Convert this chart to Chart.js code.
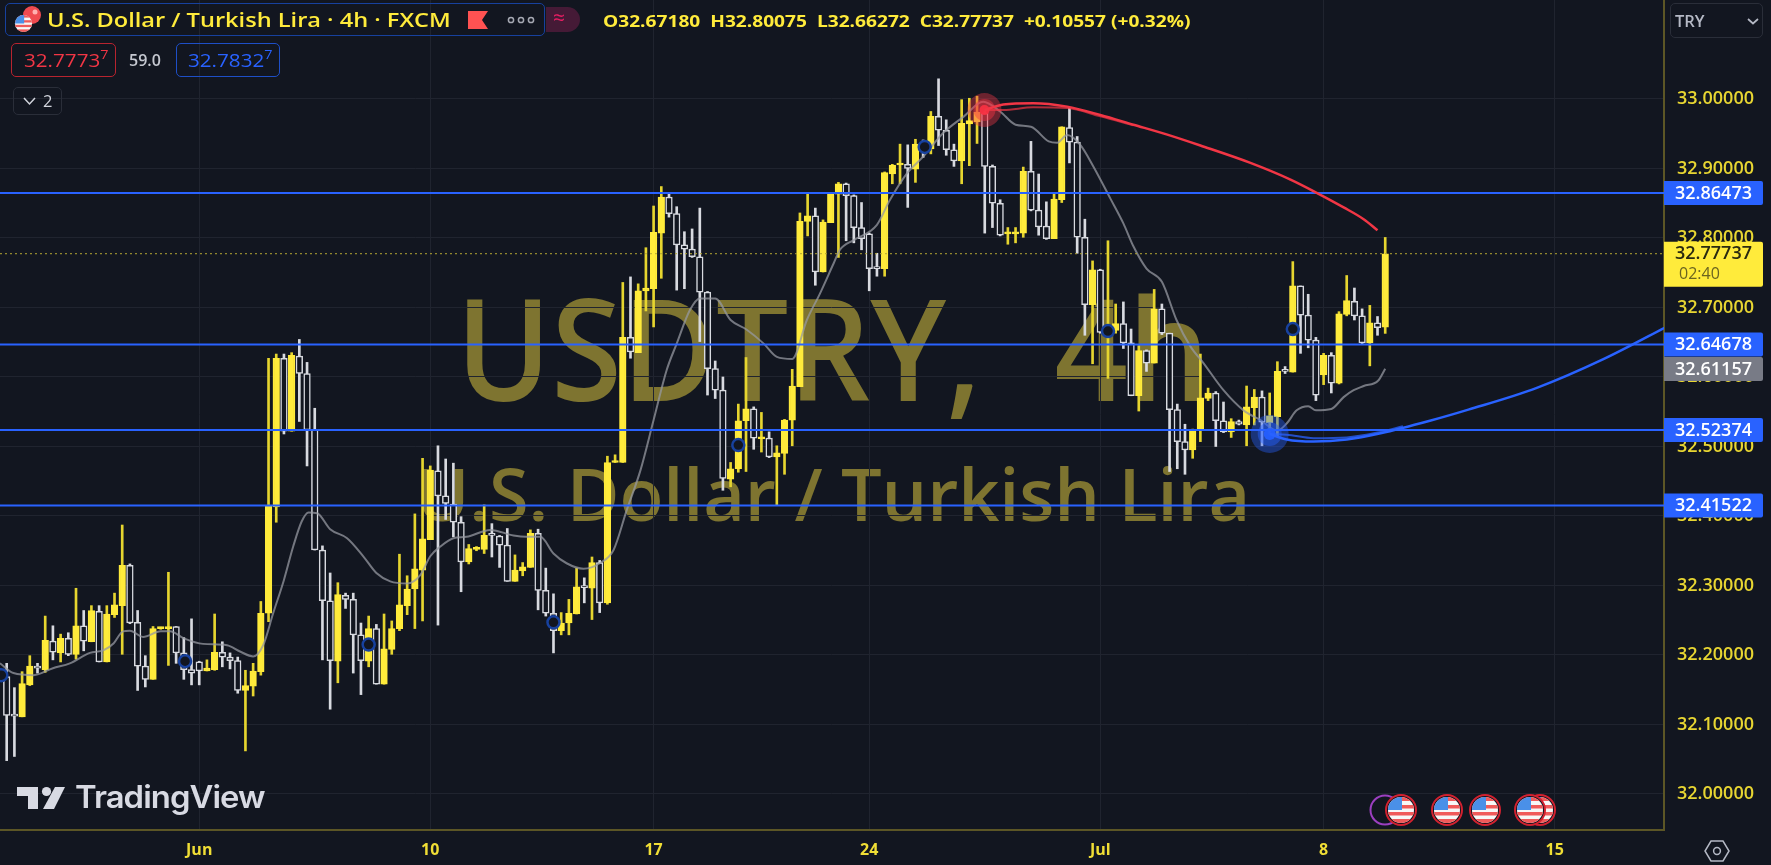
<!DOCTYPE html>
<html>
<head>
<meta charset="utf-8">
<title>USDTRY 4h</title>
<script src="https://cdn.jsdelivr.net/npm/chart.js@4"></script>
<style>
html, body { margin: 0; padding: 0; background: #121620; overflow: hidden; }
#wrap { position: relative; width: 1771px; height: 865px; font-family: "Open Sans", sans-serif; }
#grafico { position: absolute; left: 0; top: 0; z-index: 2; }
.abs { position: absolute; white-space: nowrap; z-index: 3; transform-origin: left center; }
.marca { position: absolute; white-space: nowrap; color: #7e7430; z-index: 1; font-family: "Open Sans", sans-serif; line-height: 1; transform-origin: left center; }
.caja { position: absolute; box-sizing: border-box; border-radius: 5px; z-index: 3; }
sup { font-size: 70%; vertical-align: top; position: relative; top: -2px; }
</style>
</head>
<body>
<div id="wrap">
  <div class="marca" style="left:456px;top:276px;font-size:141px;font-weight:600;transform:scaleX(0.91);word-spacing:44px;">USDTRY, 4h</div>
  <div class="marca" style="left:416px;top:457px;font-size:72px;font-weight:600;letter-spacing:-0.1px;">U.S. Dollar / Turkish Lira</div>
  <canvas id="grafico" width="1771" height="865"></canvas>

  <div class="caja" style="left:5px;top:3px;width:540px;height:33px;border:1.5px solid #17419e;"></div>
  <svg class="abs" style="left:10px;top:5px;" width="36" height="30" viewBox="0 0 36 30">
    <circle cx="22" cy="10" r="9" fill="#f04a50"/><circle cx="25" cy="7" r="2.5" fill="#ffb0b0"/>
    <use href="#bandera" x="3" y="8" width="21" height="21"/>
  </svg>
  <div class="abs" style="left:47px;top:5px;font-size:20.5px;font-weight:600;color:#ffeb3b;transform:scaleX(1.15);">U.S. Dollar / Turkish Lira · 4h · FXCM</div>
  <svg class="abs" style="left:468px;top:11px;" width="20" height="18"><path d="M0 0H20L14 9L20 18H0Z" fill="#ff5252"/></svg>
  <svg class="abs" style="left:507px;top:16px;" width="28" height="8"><g fill="none" stroke="#a6a9b3" stroke-width="1.5"><circle cx="4" cy="4" r="2.6"/><circle cx="14" cy="4" r="2.6"/><circle cx="24" cy="4" r="2.6"/></g></svg>
  <div class="caja" style="left:546px;top:7px;width:34px;height:25px;background:#451a36;border-radius:0 13px 13px 0;"></div>
  <div class="abs" style="left:553px;top:3px;font-size:21px;color:#e91e63;">≈</div>
  <div class="abs" style="left:603px;top:9px;font-size:16.5px;font-weight:700;color:#ffeb3b;transform:scaleX(1.16);">O32.67180&nbsp; H32.80075&nbsp; L32.66272&nbsp; C32.77737&nbsp; +0.10557 (+0.32%)</div>

  <div class="caja" style="left:11px;top:43px;width:105px;height:34px;border:1.5px solid #b8242f;"></div>
  <div class="abs" style="left:24px;top:48px;font-size:17.5px;color:#f23645;transform:scaleX(1.18);">32.7773<sup>7</sup></div>
  <div class="abs" style="left:129px;top:49px;font-size:16px;font-weight:600;color:#c5c8d0;">59.0</div>
  <div class="caja" style="left:176px;top:43px;width:104px;height:34px;border:1.5px solid #1e4fc7;"></div>
  <div class="abs" style="left:188px;top:48px;font-size:17.5px;color:#2962ff;transform:scaleX(1.18);">32.7832<sup>7</sup></div>
  <div class="caja" style="left:13px;top:87px;width:49px;height:28px;border:1.5px solid #2a2e39;"></div>
  <svg class="abs" style="left:23px;top:97px;" width="13" height="9"><path d="M1 1L6.5 7L12 1" fill="none" stroke="#d1d4dc" stroke-width="1.5"/></svg>
  <div class="abs" style="left:43px;top:89px;font-size:16.5px;color:#d1d4dc;">2</div>

  <div class="caja" style="left:1670px;top:3px;width:93px;height:35px;border:1.5px solid #2a2e39;"></div>
  <div class="abs" style="left:1675px;top:9px;font-size:16.5px;font-weight:600;color:#b5b9c5;">TRY</div>
  <svg class="abs" style="left:1747px;top:18px;" width="12" height="7"><path d="M1 1L6 5.5L11 1" fill="none" stroke="#b5b9c5" stroke-width="1.7"/></svg>

  <svg class="abs" style="left:17px;top:785px;" width="50" height="26" viewBox="17 785 50 26">
    <path d="M17 787H38V809H28V796H17Z" fill="#d8dae3"/><circle cx="46.5" cy="791.5" r="4.6" fill="#d8dae3"/><path d="M55 787H65L54 809H43Z" fill="#d8dae3"/>
  </svg>
  <div class="abs" style="left:75px;top:778px;font-size:31px;font-weight:600;color:#d8dae3;font-family:Inter,sans-serif;letter-spacing:-0.9px;transform:scaleX(1.06);">TradingView</div>

  <svg class="abs" style="left:1703px;top:839px;" width="28" height="24" viewBox="0 0 28 24">
    <path d="M8 2H20L26 12L20 22H8L2 12Z" fill="none" stroke="#b5b9c5" stroke-width="1.5"/><circle cx="14" cy="12" r="3.4" fill="none" stroke="#b5b9c5" stroke-width="1.5"/>
  </svg>

  <svg width="0" height="0" style="position:absolute">
    <defs>
      <clipPath id="redondo"><circle cx="16" cy="16" r="13"/></clipPath>
      <symbol id="bandera" viewBox="0 0 32 32">
        <g clip-path="url(#redondo)">
          <rect width="32" height="32" fill="#f7f7f7"/>
          <rect y="3" width="32" height="4" fill="#f05a5a"/><rect y="11" width="32" height="3.5" fill="#f05a5a"/>
          <rect y="18" width="32" height="3.5" fill="#f05a5a"/><rect y="25" width="32" height="4" fill="#f05a5a"/>
          <rect width="17" height="16" fill="#4a90e8"/>
        </g>
      </symbol>
    </defs>
  </svg>
  <svg class="abs" style="left:1369px;top:794px;" width="32" height="32"><circle cx="16" cy="16" r="14.5" fill="#121620" stroke="#9c3fc0" stroke-width="2"/></svg>
  <svg class="abs" style="left:1524px;top:794px;" width="32" height="32"><circle cx="16" cy="16" r="15" fill="#121620" stroke="#d3212f" stroke-width="2"/><use href="#bandera" width="32" height="32"/></svg>
  <svg class="abs" style="left:1385px;top:794px;" width="32" height="32"><circle cx="16" cy="16" r="15" fill="#121620" stroke="#d3212f" stroke-width="2"/><use href="#bandera" width="32" height="32"/></svg>
  <svg class="abs" style="left:1431px;top:794px;" width="32" height="32"><circle cx="16" cy="16" r="15" fill="#121620" stroke="#d3212f" stroke-width="2"/><use href="#bandera" width="32" height="32"/></svg>
  <svg class="abs" style="left:1469px;top:794px;" width="32" height="32"><circle cx="16" cy="16" r="15" fill="#121620" stroke="#d3212f" stroke-width="2"/><use href="#bandera" width="32" height="32"/></svg>
  <svg class="abs" style="left:1514px;top:794px;" width="32" height="32"><circle cx="16" cy="16" r="15" fill="#121620" stroke="#d3212f" stroke-width="2"/><use href="#bandera" width="32" height="32"/></svg>
</div>

<script>
// Velas de 4h
const highs = [
  32.188,32.153,32.176,32.199,32.188,32.256,32.242,32.230,32.232,32.296,
  32.264,32.271,32.271,32.271,32.289,32.387,32.331,32.264,32.199,32.241,
  32.240,32.319,32.241,32.225,32.252,32.191,32.193,32.259,32.219,32.203,
  32.197,32.178,32.188,32.277,32.627,32.633,32.633,32.635,32.654,32.621,
  32.555,32.357,32.318,32.304,32.289,32.289,32.246,32.256,32.244,32.259,
  32.249,32.345,32.314,32.403,32.483,32.472,32.501,32.482,32.476,32.399,
  32.359,32.356,32.416,32.389,32.372,32.382,32.344,32.333,32.380,32.381,
  32.325,32.288,32.261,32.280,32.325,32.311,32.341,32.336,32.486,32.488,
  32.736,32.744,32.734,32.786,32.846,32.874,32.863,32.845,32.809,32.813,
  32.843,32.723,32.623,32.600,32.477,32.561,32.628,32.557,32.549,32.521,
  32.501,32.539,32.611,32.836,32.865,32.843,32.826,32.865,32.880,32.879,
  32.862,32.851,32.807,32.778,32.895,32.906,32.935,32.934,32.942,32.941,
  32.982,33.029,32.970,32.935,32.999,33.001,33.004,32.982,32.905,32.855,
  32.815,32.815,32.902,32.939,32.892,32.852,32.863,32.960,32.988,32.946,
  32.827,32.767,32.755,32.796,32.705,32.708,32.669,32.645,32.639,32.726,
  32.705,32.663,32.561,32.532,32.525,32.633,32.584,32.579,32.564,32.540,
  32.538,32.587,32.582,32.580,32.577,32.622,32.615,32.766,32.731,32.719,
  32.657,32.634,32.635,32.694,32.746,32.728,32.698,32.703,32.687,32.80075
];
const lows = [
  32.048,32.054,32.111,32.156,32.174,32.175,32.193,32.190,32.199,32.194,
  32.206,32.219,32.190,32.190,32.254,32.201,32.245,32.149,32.154,32.165,
  32.237,32.185,32.188,32.165,32.157,32.157,32.177,32.178,32.183,32.180,
  32.145,32.062,32.141,32.171,32.248,32.391,32.518,32.522,32.536,32.472,
  32.351,32.193,32.122,32.160,32.267,32.174,32.143,32.183,32.158,32.158,
  32.201,32.235,32.258,32.238,32.249,32.366,32.243,32.395,32.370,32.291,
  32.331,32.350,32.346,32.341,32.326,32.306,32.306,32.314,32.326,32.265,
  32.256,32.203,32.229,32.229,32.259,32.275,32.251,32.261,32.273,32.477,
  32.477,32.627,32.635,32.695,32.672,32.742,32.830,32.725,32.727,32.772,
  32.651,32.574,32.569,32.437,32.442,32.463,32.464,32.496,32.492,32.484,
  32.415,32.460,32.501,32.586,32.803,32.732,32.751,32.822,32.772,32.796,
  32.793,32.783,32.724,32.745,32.745,32.878,32.878,32.844,32.880,32.916,
  32.921,32.933,32.919,32.903,32.878,32.904,32.936,32.807,32.815,32.803,
  32.791,32.793,32.801,32.839,32.804,32.798,32.799,32.851,32.908,32.778,
  32.660,32.619,32.663,32.598,32.663,32.641,32.573,32.551,32.608,32.620,
  32.661,32.464,32.468,32.460,32.483,32.507,32.566,32.500,32.520,32.513,
  32.531,32.501,32.531,32.501,32.518,32.514,32.605,32.607,32.634,32.642,
  32.566,32.589,32.577,32.590,32.688,32.682,32.648,32.616,32.660,32.66272
];
const opens = [
  32.169,32.113,32.111,32.157,32.184,32.179,32.220,32.203,32.224,32.201,
  32.242,32.219,32.263,32.190,32.258,32.271,32.329,32.247,32.184,32.165,
  32.238,32.238,32.241,32.203,32.179,32.190,32.177,32.179,32.204,32.197,
  32.192,32.149,32.155,32.176,32.260,32.413,32.627,32.522,32.630,32.605,
  32.524,32.351,32.278,32.191,32.286,32.280,32.229,32.191,32.238,32.158,
  32.208,32.238,32.271,32.295,32.322,32.366,32.465,32.429,32.417,32.391,
  32.334,32.352,32.352,32.373,32.371,32.358,32.306,32.321,32.326,32.375,
  32.293,32.260,32.235,32.246,32.259,32.299,32.296,32.333,32.275,32.477,
  32.477,32.657,32.635,32.724,32.727,32.807,32.859,32.835,32.790,32.784,
  32.773,32.722,32.612,32.581,32.453,32.468,32.537,32.554,32.511,32.512,
  32.485,32.490,32.538,32.586,32.824,32.832,32.751,32.822,32.863,32.878,
  32.861,32.815,32.806,32.758,32.756,32.892,32.905,32.906,32.899,32.935,
  32.928,32.975,32.955,32.927,32.911,32.964,32.967,32.980,32.903,32.850,
  32.806,32.806,32.807,32.896,32.840,32.817,32.799,32.855,32.959,32.938,
  32.801,32.704,32.754,32.658,32.667,32.677,32.649,32.573,32.638,32.620,
  32.698,32.663,32.553,32.507,32.495,32.524,32.569,32.577,32.537,32.521,
  32.536,32.531,32.556,32.571,32.534,32.543,32.609,32.607,32.731,32.689,
  32.653,32.603,32.631,32.591,32.690,32.709,32.688,32.649,32.678,32.6718
];
const closes = [
  32.113,32.112,32.159,32.184,32.181,32.221,32.204,32.224,32.201,32.242,
  32.220,32.264,32.190,32.259,32.272,32.329,32.246,32.184,32.165,32.238,
  32.239,32.241,32.203,32.179,32.174,32.177,32.181,32.204,32.197,32.192,
  32.149,32.156,32.177,32.260,32.414,32.627,32.522,32.631,32.605,32.524,
  32.351,32.278,32.192,32.287,32.280,32.229,32.192,32.238,32.158,32.209,
  32.238,32.272,32.295,32.324,32.367,32.466,32.429,32.418,32.391,32.334,
  32.353,32.354,32.372,32.372,32.358,32.306,32.322,32.327,32.375,32.293,
  32.260,32.235,32.246,32.260,32.298,32.297,32.333,32.275,32.477,32.478,
  32.657,32.636,32.724,32.728,32.808,32.859,32.835,32.790,32.784,32.773,
  32.722,32.612,32.581,32.454,32.468,32.537,32.554,32.512,32.513,32.485,
  32.491,32.538,32.587,32.824,32.832,32.751,32.823,32.864,32.878,32.861,
  32.815,32.799,32.756,32.756,32.894,32.905,32.906,32.900,32.935,32.927,
  32.975,32.955,32.927,32.911,32.965,32.969,32.981,32.903,32.850,32.804,
  32.808,32.808,32.896,32.840,32.816,32.799,32.856,32.960,32.938,32.801,
  32.704,32.754,32.664,32.672,32.677,32.649,32.573,32.638,32.620,32.698,
  32.663,32.553,32.507,32.495,32.524,32.570,32.577,32.537,32.521,32.536,
  32.532,32.557,32.571,32.535,32.544,32.608,32.608,32.731,32.689,32.653,
  32.574,32.631,32.591,32.691,32.710,32.688,32.649,32.678,32.671,32.77737
];

// Media móvil gris
const maIndex = [-0.87,0.87,3.5,6,8.2,10.8,12.6,13.9,15.1,16,17.7,20,21.2,23,25.5,28.6,30.3,32,33.3,34.6,36,37.2,38.3,39.2,40.3,42,44.2,46.3,48,49.8,52,53.7,55,56.3,58,59.7,62.8,65.8,67.5,69.3,71,72.7,74.9,77,78.8,80.5,82.3,84,85.7,87,88.7,90,92,94,96.1,98.3,100,102,103.9,105.6,107.4,108.2,110,113,114.7,116.9,119,121.6,124.3,126.8,129,131,133,135.3,136.4,137.7,139.4,141.1,143.3,145,146.3,148,150,151.9,153.7,155.4,158,160.6,162.8,165,166.2,167.5,169,170,172,173.6,174.9,176.2,178.1,179];
const maValues = [32.188,32.174,32.171,32.181,32.188,32.203,32.207,32.217,32.234,32.235,32.226,32.234,32.234,32.224,32.216,32.214,32.205,32.198,32.214,32.260,32.308,32.356,32.392,32.405,32.404,32.381,32.368,32.342,32.318,32.306,32.303,32.315,32.342,32.356,32.368,32.370,32.380,32.372,32.370,32.370,32.346,32.332,32.324,32.332,32.351,32.408,32.466,32.538,32.610,32.648,32.696,32.713,32.713,32.682,32.668,32.648,32.629,32.626,32.682,32.720,32.764,32.783,32.797,32.819,32.855,32.893,32.917,32.951,32.975,32.996,32.982,32.963,32.960,32.939,32.937,32.948,32.934,32.903,32.857,32.821,32.788,32.756,32.737,32.682,32.644,32.620,32.581,32.552,32.538,32.523,32.533,32.552,32.558,32.552,32.554,32.571,32.581,32.587,32.595,32.612];

// Niveles horizontales y precio actual
const levels = [32.86473, 32.64678, 32.52374, 32.41522];
const lastPrice = 32.77737;
const maLast = 32.61157;

// Curvas roja y azul
const redIndex = [126.96,129.4,133.3,137.7,142,146.3,150.6,155,161.5,166.7,170.1,173.6,176.2,178];
const redValues = [32.984,32.992,32.994,32.989,32.977,32.963,32.949,32.933,32.908,32.884,32.865,32.844,32.827,32.811];
const redIndex2 = [126.96,129.4,133.3,137.7,142,146.3];
const redValues2 = [32.984,32.984,32.988,32.987,32.975,32.962];
const blueIndex = [164,166.2,169.7,174,178.4,184.8,189.8,198.6,207.4,216];
const blueValues = [32.518,32.510,32.507,32.510,32.519,32.537,32.553,32.584,32.626,32.675];
const blueIndex2 = [164,166.2,169.7,174,178.4,181.3];
const blueValues2 = [32.518,32.517,32.512,32.513,32.521,32.529];

// Señales (anillos azules)
const ringIndex = [-0.7,23.16,47,71,95,119.2,143,167];
const ringValues = [32.171,32.191,32.215,32.247,32.502,32.931,32.666,32.669];

// Ejes
const yTicks = [32.0,32.1,32.2,32.3,32.4,32.5,32.6,32.7,32.8,32.9,33.0];
const xTickIndex = [25,55,84,112,142,171,201];
const xTickLabels = ['Jun','10','17','24','Jul','8','15'];

const fondo = '#121620';
const amarillo = '#ffeb3b';
const azul = '#2962ff';
const rojo = '#f23645';
const grid = '#20242f';
const borde = '#5c5626';
const xMin = -0.87, xMax = 215.2;
const yMin = 31.9482, yMax = 33.1424;

const indices = highs.map((_, i) => i);
const subeVela = i => closes[i] >= opens[i];

function puntos(xs, ys) {
    return xs.map((x, i) => ({ x: x, y: ys[i] }));
}

function lineaHorizontal(valor, color, extra) {
    return Object.assign({
        type: 'line',
        data: [{ x: xMin, y: valor }, { x: xMax, y: valor }],
        borderColor: color,
        borderWidth: 2,
        pointRadius: 0,
        order: 2
    }, extra || {});
}

function punto(x, y, radio, color) {
    return {
        type: 'line',
        data: [{ x: x, y: y }],
        showLine: false,
        pointRadius: radio,
        pointBackgroundColor: color,
        pointBorderWidth: 0,
        order: 1
    };
}

// El eje no debe reservar margen para media etiqueta
function sinPadding(s) {
    s.paddingLeft = 0;
    s.paddingRight = 0;
    s.paddingTop = 0;
    s.paddingBottom = 0;
}

const datasets = [
    // mechas
    {
        data: indices.map(i => ({ x: i, y: [lows[i], highs[i]] })),
        backgroundColor: indices.map(i => subeVela(i) ? '#e6d52f' : '#d8dae0'),
        barThickness: 2,
        grouped: false,
        order: 6
    },
    // cuerpos
    {
        data: indices.map(i => ({ x: i, y: [opens[i], closes[i]] })),
        backgroundColor: indices.map(i => subeVela(i) ? amarillo : fondo),
        borderColor: indices.map(i => subeVela(i) ? amarillo : '#d8dae0'),
        borderWidth: 1.5,
        borderSkipped: false,
        barThickness: 6.6,
        minBarLength: 2,
        grouped: false,
        order: 5
    },
    {
        type: 'line',
        data: puntos(maIndex, maValues),
        borderColor: 'rgba(150,152,160,0.75)',
        borderWidth: 2,
        pointRadius: 0,
        cubicInterpolationMode: 'monotone',
        order: 4
    },
    {
        type: 'line',
        data: [{ x: xMin, y: lastPrice }, { x: xMax, y: lastPrice }],
        borderColor: '#b3a533',
        borderWidth: 1,
        borderDash: [2, 3],
        pointRadius: 0,
        order: 3
    },
    lineaHorizontal(levels[0], azul),
    lineaHorizontal(levels[1], azul),
    lineaHorizontal(levels[2], azul),
    lineaHorizontal(levels[3], azul),
    {
        type: 'line',
        data: puntos(redIndex, redValues),
        borderColor: rojo,
        borderWidth: 2.5,
        pointRadius: 0,
        cubicInterpolationMode: 'monotone',
        order: 1
    },
    {
        type: 'line',
        data: puntos(redIndex2, redValues2),
        borderColor: 'rgba(242,54,69,0.7)',
        borderWidth: 2,
        pointRadius: 0,
        cubicInterpolationMode: 'monotone',
        order: 1
    },
    {
        type: 'line',
        data: puntos(blueIndex, blueValues),
        borderColor: azul,
        borderWidth: 2.5,
        pointRadius: 0,
        cubicInterpolationMode: 'monotone',
        order: 1
    },
    {
        type: 'line',
        data: puntos(blueIndex2, blueValues2),
        borderColor: 'rgba(41,98,255,0.75)',
        borderWidth: 2,
        pointRadius: 0,
        cubicInterpolationMode: 'monotone',
        order: 1
    },
    punto(redIndex[0], redValues[0], 17, 'rgba(242,54,69,0.4)'),
    punto(redIndex[0], redValues[0], 11, 'rgba(242,54,69,0.45)'),
    punto(redIndex[0], redValues[0], 5, 'rgba(255,40,60,0.95)'),
    punto(blueIndex[0], blueValues[0], 19, 'rgba(41,98,255,0.4)'),
    punto(blueIndex[0], blueValues[0], 12, 'rgba(41,98,255,0.45)'),
    punto(blueIndex[0], blueValues[0], 6, 'rgba(30,90,255,0.95)'),
    {
        type: 'line',
        data: puntos(ringIndex, ringValues),
        showLine: false,
        pointRadius: 6,
        pointBackgroundColor: fondo,
        pointBorderColor: '#17419e',
        pointBorderWidth: 2.5,
        order: 0
    }
];

// Etiquetas de precio sobre el eje derecho
const etiquetasPrecio = {
    id: 'etiquetasPrecio',
    afterDraw(chart) {
        const ctx = chart.ctx;
        const escala = chart.scales.y;
        const left = chart.chartArea.right;
        const ancho = 99;
        ctx.save();
        ctx.textBaseline = 'middle';
        ctx.textAlign = 'center';
        ctx.font = '600 18px "Open Sans"';

        const tag = (valor, color, texto) => {
            const y = escala.getPixelForValue(valor);
            ctx.fillStyle = color;
            ctx.beginPath();
            ctx.roundRect(left, y - 12, ancho, 24, [0, 2, 2, 0]);
            ctx.fill();
            ctx.fillStyle = texto;
            ctx.fillText(valor.toFixed(5), left + ancho / 2, y + 0.5);
        };

        levels.forEach(v => tag(v, azul, '#ffffff'));
        tag(maLast, '#787b86', '#ffffff');

        const yPrecio = escala.getPixelForValue(lastPrice);
        ctx.fillStyle = amarillo;
        ctx.beginPath();
        ctx.roundRect(left, yPrecio - 12, ancho, 45, [0, 2, 2, 0]);
        ctx.fill();
        ctx.fillStyle = '#2a2a10';
        ctx.fillText(lastPrice.toFixed(5), left + ancho / 2, yPrecio + 0.5);
        ctx.fillStyle = '#6b6420';
        ctx.textAlign = 'left';
        ctx.font = '500 16px "Open Sans"';
        ctx.fillText('02:40', left + 15, yPrecio + 21);
        ctx.restore();
    }
};

new Chart(document.getElementById('grafico'), {
    type: 'bar',
    data: { datasets: datasets },
    plugins: [etiquetasPrecio],
    options: {
        responsive: false,
        animation: false,
        parsing: true,
        layout: { padding: 0, autoPadding: false },
        plugins: { legend: { display: false }, tooltip: { enabled: false }, title: { display: false } },
        events: [],
        scales: {
            x: {
                type: 'linear',
                min: xMin,
                max: xMax,
                offset: false,
                afterFit(s) { s.height = 35; sinPadding(s); },
                afterBuildTicks(s) { s.ticks = xTickIndex.map(v => ({ value: v })); },
                grid: { color: grid, lineWidth: 1, offset: false, drawTicks: false },
                border: { color: borde, width: 2 },
                ticks: {
                    autoSkip: false,
                    maxRotation: 0,
                    padding: 11,
                    color: '#f0de35',
                    font: { family: '"Open Sans"', size: 16, weight: '700' },
                    callback: v => xTickLabels[xTickIndex.indexOf(v)]
                }
            },
            y: {
                position: 'right',
                min: yMin,
                max: yMax,
                afterFit(s) { s.width = 107; sinPadding(s); },
                afterBuildTicks(s) { s.ticks = yTicks.map(v => ({ value: v })); },
                grid: { color: grid, lineWidth: 1, drawTicks: false },
                border: { color: borde, width: 2 },
                ticks: {
                    autoSkip: false,
                    padding: 13,
                    color: '#e8d632',
                    font: { family: '"Open Sans"', size: 18, weight: '600' },
                    callback: v => v.toFixed(5)
                }
            }
        }
    }
});
</script>
</body>
</html>
